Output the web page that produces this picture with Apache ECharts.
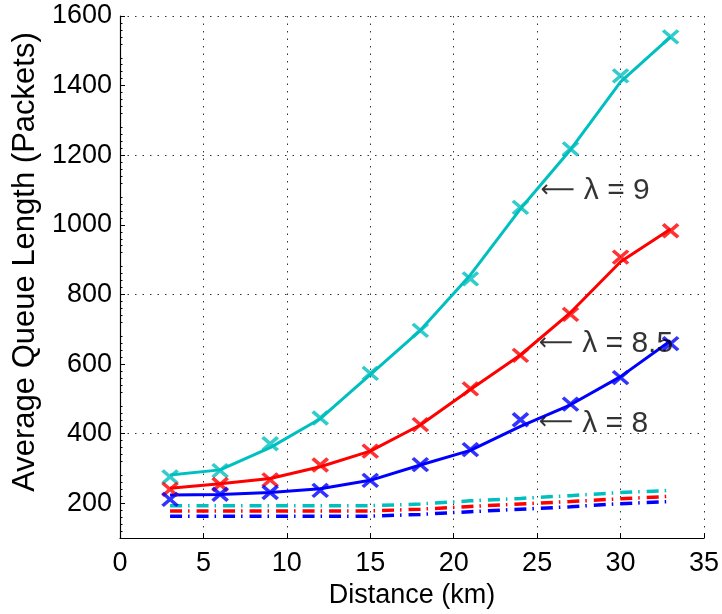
<!DOCTYPE html>
<html>
<head>
<meta charset="utf-8">
<script src="https://cdn.jsdelivr.net/npm/echarts@6/dist/echarts.min.js"></script>
<style>
  html, body { margin: 0; padding: 0; background: #fff; }
  #chart { width: 722px; height: 614px; }
</style>
</head>
<body>
<div id="chart"></div>
<script>
// Distance points (km)
const distance = [3, 6, 9, 12, 15, 18, 21, 24, 27, 30, 33];

// Analytical average queue length (solid curves)
const modelL9  = [281, 296, 360, 443, 570, 697, 856, 1046, 1216, 1411, 1540];
const modelL85 = [243, 256, 271, 305, 350, 425, 527, 626, 748, 894, 988];
const modelL8  = [224, 225, 231, 242, 266, 310, 352, 421, 483, 564, 667];

// Simulated average queue length (x markers)
const simL9  = [276, 294, 371, 445, 573, 697, 845, 1050, 1218, 1428, 1540];
const simL85 = [240, 254, 267, 310, 350, 426, 529, 625, 743, 907, 983];
const simL8  = [211, 226, 231, 237, 266, 311, 354, 440, 485, 561, 659];

// Lower curves (dash-dot)
const lowL9  = [193, 193, 193, 193, 193, 198, 207, 214, 222, 231, 237];
const lowL85 = [178, 178, 178, 178, 178, 183, 191, 198, 205, 213, 220];
const lowL8  = [163, 163, 163, 163, 163, 168, 176, 183, 190, 199, 205];

// Tick labels
const xTicks = [0, 5, 10, 15, 20, 25, 30, 35];
const yTicks = [200, 400, 600, 800, 1000, 1200, 1400, 1600];

// Curve annotations
const noteText = ['\u03bb = 9', '\u03bb = 8.5', '\u03bb = 8'];
const noteX = [25.2, 25.1, 25.1];
const noteY = [1099, 659, 430];

const CYAN = '#00BFBF', RED = '#FF0000', BLUE = '#0000FF';
const FONT = '"Liberation Sans", "DejaVu Sans", Arial, sans-serif';

const pairs = (ys) => distance.map((x, i) => [x, ys[i]]);
const crossPath = 'path://M0,0L10,10M10,0L0,10';

function solid(name, ys, color) {
  return {
    name, type: 'line', data: pairs(ys), showSymbol: false, symbol: 'none',
    lineStyle: { color, width: 3 }, z: 3, animation: false, silent: true
  };
}
function marks(name, ys, color) {
  return {
    name, type: 'scatter', data: pairs(ys), symbol: crossPath,
    symbolSize: [15, 13],
    itemStyle: { color: 'rgba(0,0,0,0)', borderColor: color, borderWidth: 3.5 },
    z: 4, animation: false, silent: true
  };
}
function dashDot(name, ys, color) {
  return {
    name, type: 'line', data: pairs(ys), showSymbol: false, symbol: 'none',
    lineStyle: { color, width: 3.5, type: [12, 6, 1.5, 7], cap: 'butt' },
    z: 2, animation: false, silent: true
  };
}

const chart = echarts.init(document.getElementById('chart'), null, { renderer: 'canvas' });

const gridDots = { type: [1.5, 6], width: 1, color: '#333' };

chart.setOption({
  animation: false,
  backgroundColor: '#fff',
  textStyle: { fontFamily: FONT },
  grid: { left: 120, right: 16, top: 16, bottom: 72, containLabel: false },
  xAxis: {
    type: 'value', min: xTicks[0], max: xTicks[xTicks.length - 1], interval: 5,
    name: 'Distance (km)', nameLocation: 'middle', nameGap: 36,
    nameTextStyle: { fontSize: 27, color: '#000', fontFamily: FONT },
    axisLine: { show: true, onZero: false, lineStyle: { color: '#000', width: 1.2 } },
    axisTick: { show: true, inside: true, length: 5, lineStyle: { color: '#000' } },
    axisLabel: { fontSize: 27, color: '#000', margin: 12, fontFamily: FONT,
                 customValues: xTicks, formatter: (v) => String(v) },
    splitLine: { show: true, lineStyle: gridDots }
  },
  yAxis: {
    type: 'value', min: 100, max: 1600, interval: 100,
    name: 'Average Queue Length (Packets)', nameLocation: 'middle', nameGap: 66,
    nameRotate: 90,
    nameTextStyle: { fontSize: 31, color: '#000', fontFamily: FONT, padding: [0, 0, 0, 30] },
    axisLine: { show: true, onZero: false, lineStyle: { color: '#000', width: 1.2 } },
    axisTick: { show: true, inside: true, length: 5, lineStyle: { color: '#000' },
                customValues: yTicks },
    minorTick: { show: true, splitNumber: 5, length: 2.5, lineStyle: { color: '#000' } },
    axisLabel: { fontSize: 27, color: '#000', margin: 8, fontFamily: FONT,
                 customValues: yTicks, formatter: (v) => String(v) },
    splitLine: {
      show: true, showMinLine: true,
      lineStyle: { type: [1.5, 6], width: 1, color: ['rgba(0,0,0,0)', '#333'] }
    }
  },
  series: [
    dashDot('low9', lowL9, CYAN),
    dashDot('low85', lowL85, RED),
    dashDot('low8', lowL8, BLUE),
    solid('model9', modelL9, CYAN),
    solid('model85', modelL85, RED),
    solid('model8', modelL8, BLUE),
    marks('sim9', simL9, CYAN),
    marks('sim85', simL85, RED),
    marks('sim8', simL8, BLUE),
    {
      name: 'notes', type: 'scatter', symbolSize: 0, z: 5, silent: true, animation: false,
      data: noteText.map((t, i) => ({ value: [noteX[i], noteY[i]], text: t })),
      label: {
        show: true, position: 'right', distance: 0,
        formatter: (p) => '{a|\u27f5}{t|' + p.data.text + '}',
        align: 'left', verticalAlign: 'middle',
        rich: {
          a: { fontFamily: '"DejaVu Sans"', fontSize: 24, color: '#000', padding: [0, 9, 0, 0] },
          t: { fontFamily: FONT, fontSize: 30, color: '#000' }
        }
      }
    }
  ]
});
</script>
</body>
</html>
